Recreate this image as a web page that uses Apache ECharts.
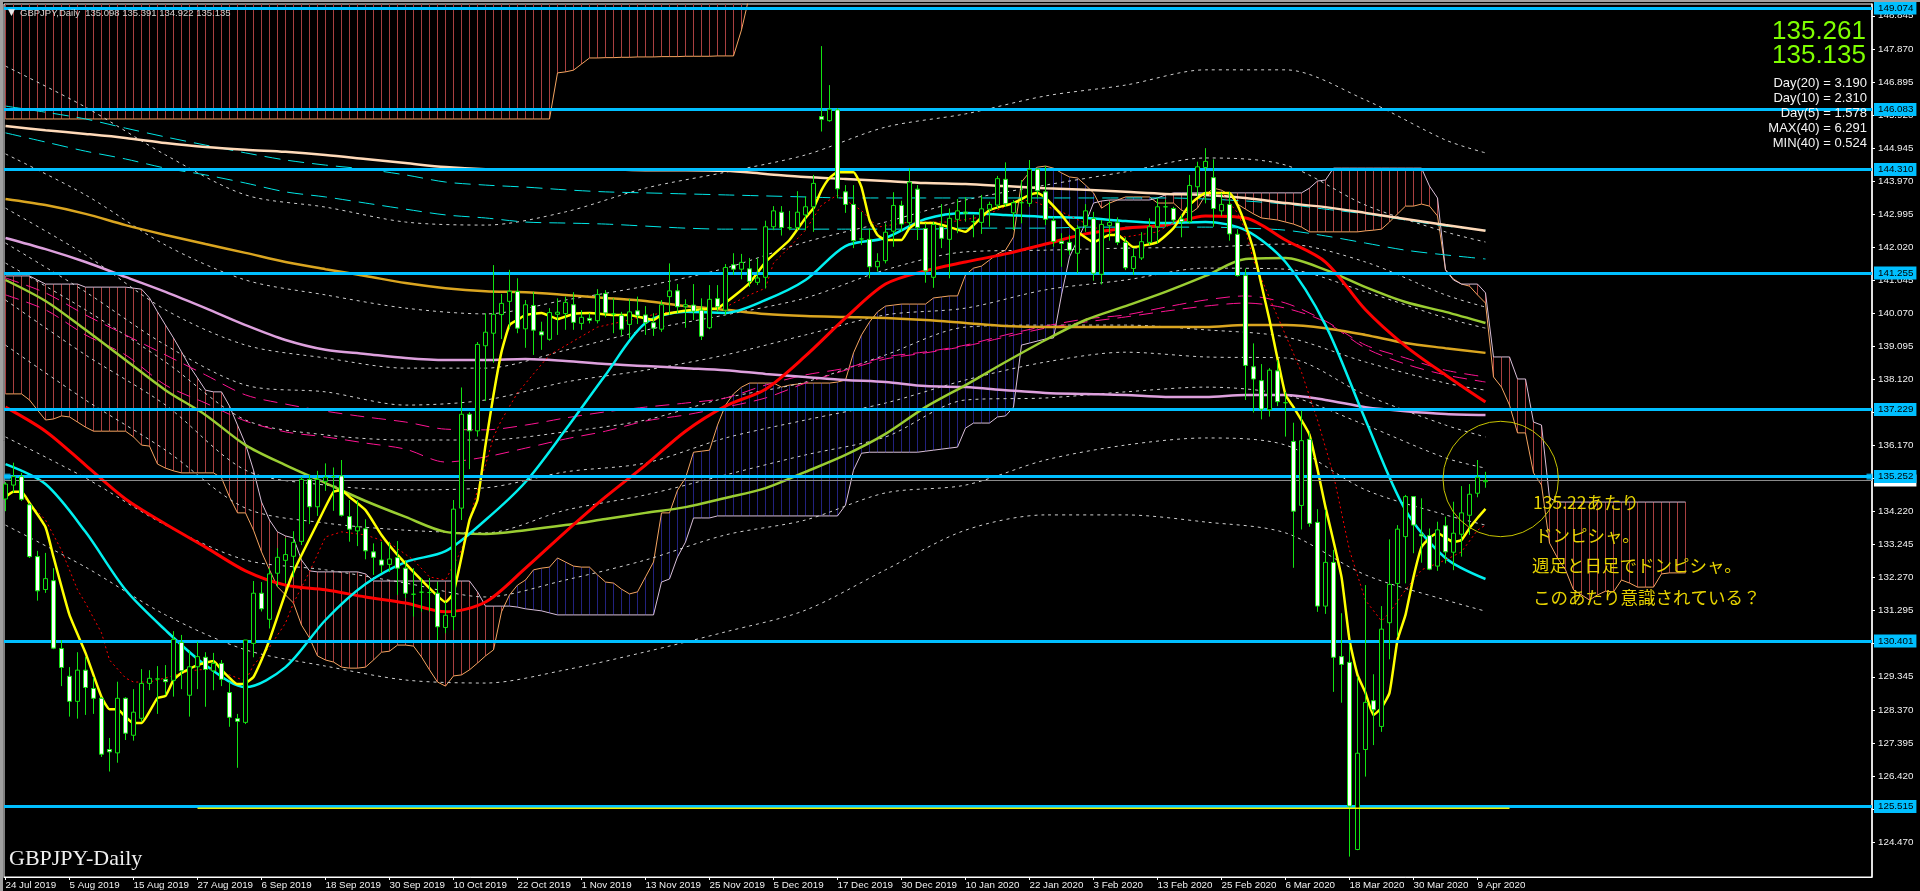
<!DOCTYPE html>
<html><head><meta charset="utf-8"><title>GBPJPY Daily</title>
<style>
html,body{margin:0;padding:0;background:#000;width:1920px;height:891px;overflow:hidden}
#c{position:absolute;left:0;top:0;width:1920px;height:891px}
.s{position:absolute;background:#a0a0a0;z-index:5}
</style>
<script src="https://cdn.jsdelivr.net/npm/echarts@6/dist/echarts.min.js"></script>
</head><body>
<div id="c"></div>
<div class="s" style="left:0;top:0;width:3px;height:891px"></div>
<div class="s" style="left:0;top:0;width:1920px;height:2px"></div>
<script>
const dateTicks=["24 Jul 2019","5 Aug 2019","15 Aug 2019","27 Aug 2019","6 Sep 2019","18 Sep 2019","30 Sep 2019","10 Oct 2019","22 Oct 2019","1 Nov 2019","13 Nov 2019","25 Nov 2019","5 Dec 2019","17 Dec 2019","30 Dec 2019","10 Jan 2020","22 Jan 2020","3 Feb 2020","13 Feb 2020","25 Feb 2020","6 Mar 2020","18 Mar 2020","30 Mar 2020","9 Apr 2020"];
const dateTickBars=[0,8,16,24,32,40,48,56,64,72,80,88,96,104,112,120,128,136,144,152,160,168,176,184];
const priceTicks=[148.845,147.870,146.895,145.920,144.945,143.970,142.995,142.020,141.045,140.070,139.095,138.120,137.145,136.170,135.195,134.220,133.245,132.270,131.295,130.320,129.345,128.370,127.395,126.420,125.445,124.470];
const levels=[149.074,146.083,144.310,141.255,137.229,135.252,130.401,125.515];
const bidPrice=135.135;
const weeklyLowLine=125.47;

const opens=[134.59,135.0,135.25,134.42,132.89,131.92,132.18,130.18,129.36,128.62,129.54,129.0,128.71,127.2,127.1,128.71,127.62,128.12,129.15,129.28,129.27,129.24,130.36,128.8,129.64,129.92,129.52,129.74,128.88,128.11,128.0,130.33,131.81,131.04,132.4,132.78,132.9,133.34,135.17,134.36,135.11,135.25,135.27,134.07,133.65,133.71,133.03,132.79,132.66,132.86,132.55,131.78,131.84,131.83,131.81,130.8,131.12,134.32,137.09,136.6,139.11,139.48,140.03,140.42,140.71,139.61,140.3,139.52,139.3,140.04,140.06,140.32,139.77,139.92,139.85,140.65,140.05,140.01,139.74,140.14,140.02,139.79,139.6,140.56,140.73,140.26,140.31,140.16,139.64,140.5,140.16,141.5,141.37,141.38,140.98,141.13,142.62,143.05,142.59,142.6,142.97,143.21,145.87,145.75,146.07,143.65,143.28,142.26,142.25,141.44,141.62,142.49,143.25,142.74,143.73,142.57,141.13,142.62,142.25,142.84,143.05,142.77,142.75,143.14,143.26,144.02,143.03,143.33,143.31,144.32,143.65,142.8,142.19,142.16,141.84,142.65,142.86,141.22,142.66,142.74,142.16,141.39,141.7,142.16,142.62,143.21,143.16,142.85,142.77,143.8,144.37,144.07,143.09,143.28,142.4,141.18,138.49,138.08,137.22,138.37,137.43,136.29,134.4,136.35,133.9,131.43,132.72,129.94,129.77,124.25,127.2,128.64,127.88,130.94,132.1,133.48,134.66,133.55,133.51,132.61,133.8,133.02,133.55,134.11,134.76,135.098];
const closes=[135.03,135.25,134.58,132.89,131.88,132.24,130.19,129.62,128.62,129.54,129.03,128.71,127.06,127.13,128.71,127.68,128.3,129.15,129.3,129.28,129.2,130.45,129.52,129.64,129.94,129.56,129.74,129.27,128.15,128.03,130.43,131.81,131.35,132.38,132.87,132.95,133.31,135.17,134.36,135.17,135.23,135.25,134.11,133.7,133.77,133.06,132.87,132.64,132.82,132.55,131.81,131.78,131.84,131.83,130.82,131.16,134.29,137.09,136.6,139.15,139.51,140.04,140.36,140.72,139.63,140.32,139.57,139.43,140.09,140.1,140.39,139.8,139.95,139.86,140.62,140.08,140.05,139.6,140.11,140.01,139.79,139.63,140.32,140.73,140.26,140.32,140.13,139.39,140.48,140.26,141.42,141.37,141.57,141.01,141.11,142.62,143.09,142.6,142.59,143.05,143.21,143.9,145.79,146.09,143.74,143.28,142.21,142.26,141.44,141.6,142.46,143.25,142.7,143.94,142.6,141.32,142.69,142.28,142.87,143.09,143.02,142.77,143.15,143.28,144.04,143.3,143.33,143.33,144.32,143.68,142.84,142.19,142.13,141.93,142.57,143.09,141.25,142.69,142.75,142.16,141.41,141.74,142.18,142.62,143.21,143.21,142.82,142.77,143.84,144.39,144.55,143.16,143.28,142.41,141.18,138.53,138.13,137.24,138.39,137.46,137.43,134.23,136.31,133.87,131.43,132.72,129.92,129.71,125.53,127.09,128.59,128.37,130.75,132.07,133.7,134.66,133.82,133.5,132.52,133.68,133.03,133.58,134.18,134.73,135.23,135.135];
const lows=[134.23,134.78,134.53,132.85,131.59,131.82,130.16,129.07,128.17,128.11,128.22,128.25,126.98,126.55,126.81,127.48,127.46,128.02,128.95,128.25,128.81,128.76,128.98,128.17,128.98,128.46,128.95,129.07,127.87,126.66,127.95,129.92,131.27,130.77,132.0,132.11,132.29,133.23,133.85,134.09,134.83,134.24,134.07,133.33,133.2,132.81,132.35,132.41,132.44,131.76,131.67,131.12,131.27,131.27,130.43,130.63,130.72,133.97,135.47,136.43,137.48,138.61,139.31,139.6,139.48,139.05,138.84,138.99,139.26,139.43,139.58,139.58,139.58,139.77,139.77,139.95,139.48,139.41,139.33,139.75,139.43,139.4,139.52,140.02,140.07,139.64,139.87,139.28,139.6,140.12,140.02,141.2,141.07,140.85,140.9,140.8,142.52,142.36,142.52,142.52,142.52,142.47,145.43,145.72,143.46,143.03,141.99,142.08,141.1,141.3,141.54,142.03,142.47,142.62,142.23,140.97,140.82,141.99,141.1,142.43,142.77,142.31,142.41,142.62,143.17,143.21,142.52,142.72,143.21,143.46,142.67,142.03,141.44,141.79,141.25,142.47,141.03,140.92,142.21,142.08,141.34,141.2,141.64,142.08,142.13,142.62,142.72,142.31,142.72,143.51,143.31,142.62,142.94,142.21,141.15,137.51,137.14,136.94,137.02,137.33,136.43,132.56,133.69,133.77,131.26,131.2,128.9,128.58,124.04,124.23,126.4,127.33,127.72,129.86,130.53,132.1,132.99,132.71,132.49,132.47,132.69,132.49,132.89,133.53,134.64,134.922];
const highs=[135.09,135.66,135.36,134.47,133.06,133.0,132.55,130.43,129.63,130.07,129.93,129.34,128.75,127.54,129.2,128.74,128.98,129.57,129.54,129.66,129.69,130.69,130.58,130.13,130.38,130.07,130.05,129.84,129.19,128.25,130.43,132.17,132.14,132.55,133.14,133.43,133.64,135.24,135.3,135.42,135.64,135.52,135.74,134.56,134.56,133.99,133.28,133.33,133.33,133.35,132.79,132.55,132.26,132.26,132.15,131.56,134.56,137.88,137.15,139.22,140.07,141.49,140.64,141.35,141.1,140.46,140.7,139.82,140.22,140.51,140.56,140.69,140.16,140.07,140.78,140.75,140.51,140.11,140.49,140.56,140.28,140.07,140.46,141.54,140.93,140.48,140.93,140.51,140.9,140.9,141.52,141.84,141.82,141.7,141.69,142.8,143.23,143.23,143.09,143.67,143.51,144.15,147.95,146.8,146.12,143.85,143.85,143.06,142.57,141.84,142.72,143.64,143.39,144.34,143.85,142.72,142.77,143.29,143.16,143.44,143.49,142.97,143.56,143.36,144.12,144.52,143.41,144.0,144.59,144.35,144.41,142.92,142.43,142.38,142.67,143.29,143.06,142.82,143.36,142.9,142.31,141.99,142.46,142.87,143.46,143.41,143.21,142.97,144.15,144.54,144.94,144.61,143.61,143.65,142.55,141.39,139.18,138.57,138.45,138.69,137.75,136.84,137.2,136.58,134.29,134.27,133.09,131.22,130.33,129.35,132.05,129.42,131.43,133.4,133.82,134.71,134.66,134.61,133.72,133.92,134.07,134.51,134.97,135.03,135.74,135.391];

// Ichimoku cloud (per bar, runs 26 bars past the last candle)
const spanA=[137.69,137.69,137.69,137.51,137.21,136.92,136.95,137.04,137.01,136.86,
136.71,136.59,136.59,136.59,136.59,136.59,136.42,136.18,136.15,135.62,
135.5,135.42,135.36,135.36,135.36,135.36,135.36,135.21,134.65,134.18,
134.18,133.67,133.03,132.5,132.0,131.76,131.52,130.87,130.49,129.96,
129.84,129.78,129.63,129.6,129.6,129.63,129.84,130.07,130.1,130.28,
130.28,130.25,129.93,129.55,129.19,129.07,129.37,129.4,129.55,129.75,
129.96,130.14,131.26,131.76,132.05,132.2,132.5,132.55,132.58,132.85,
132.73,132.61,132.58,132.58,132.35,132.14,132.11,131.93,131.79,131.85,
132.29,132.73,134.18,134.18,134.85,135.21,135.97,136.0,136.03,136.77,
137.36,137.69,137.89,138.01,138.01,138.01,138.01,137.89,137.95,137.98,
138.01,138.01,138.01,138.01,138.04,138.1,138.9,139.43,139.81,140.11,
140.28,140.31,140.34,140.34,140.34,140.34,140.52,140.55,140.58,140.58,
141.2,141.4,141.46,141.64,141.82,141.93,142.32,143.94,144.23,144.38,
144.41,144.35,144.21,144.09,144.06,143.85,143.62,143.17,143.32,143.41,
143.5,143.5,143.5,143.5,143.32,143.32,143.32,143.11,143.0,143.17,
143.56,143.76,143.7,143.56,143.29,143.14,143.0,142.88,142.85,142.82,
142.76,142.7,142.61,142.47,142.47,142.47,142.47,142.47,142.47,142.47,
142.5,142.52,142.55,142.76,143.0,143.23,143.23,143.29,143.23,142.94,
141.35,141.08,140.93,140.87,140.61,140.37,138.19,137.89,137.36,136.54,
136.54,135.36,135.0,133.29,132.85,132.5,131.91,131.76,131.61,131.76,
131.87,131.85,132.2,132.11,131.99,131.99,131.99,132.38,132.41,132.41,132.41];
const spanB=[141.17,141.17,141.17,141.17,141.05,140.93,140.93,140.93,140.93,140.93,
140.84,140.84,140.84,140.84,140.84,140.84,140.81,140.78,140.52,140.11,
139.72,139.34,138.93,138.51,138.16,137.8,137.75,137.75,137.33,136.77,
136.21,135.44,134.5,133.97,133.62,133.5,133.44,132.79,132.47,132.44,
132.44,132.44,132.44,132.44,132.44,132.38,132.17,132.17,132.17,132.17,
132.17,132.17,132.17,132.17,132.17,132.17,132.17,132.17,132.17,131.85,
131.43,131.43,131.43,131.43,131.4,131.35,131.32,131.29,131.23,131.17,
131.17,131.17,131.17,131.17,131.17,131.17,131.17,131.17,131.17,131.17,
131.17,131.17,132.14,132.23,132.88,133.32,134.03,134.03,134.03,134.09,
134.09,134.09,134.09,134.09,134.09,134.09,134.09,134.09,134.09,134.09,
134.09,134.09,134.09,134.09,134.09,134.41,135.44,135.94,135.97,135.97,
135.97,135.97,135.97,135.97,135.97,136.0,136.03,136.06,136.09,136.12,
136.68,136.83,136.83,136.83,137.01,137.04,137.3,139.13,139.19,139.25,
139.31,139.34,140.61,141.73,142.23,142.73,143.32,143.38,143.41,143.41,
143.41,143.41,143.41,143.41,143.47,143.56,143.62,143.62,143.62,143.62,
143.62,143.62,143.62,143.62,143.62,143.62,143.62,143.62,143.62,143.62,
143.62,143.62,143.62,143.76,143.97,144.0,144.35,144.35,144.35,144.35,
144.35,144.35,144.35,144.35,144.35,144.35,144.35,144.35,143.82,143.47,
141.35,141.05,140.93,140.93,140.93,140.67,138.78,138.78,138.78,138.13,
138.13,136.86,136.77,134.62,134.5,134.5,134.5,134.5,134.5,134.5,
134.5,134.5,134.5,134.5,134.5,134.5,134.5,134.5,134.5,134.5,134.5];
// Higher cloud: its lower edge is visible, its upper edge is above the window
const upperCloudEdge=[145.8,145.8,145.8,145.8,145.8,145.8,145.8,145.8,145.8,145.8,
145.8,145.8,145.8,145.8,145.8,145.8,145.8,145.8,145.8,145.8,
145.8,145.8,145.8,145.8,145.8,145.8,145.8,145.8,145.8,145.8,
145.8,145.8,145.8,145.8,145.8,145.8,145.8,145.8,145.8,145.8,
145.8,145.8,145.8,145.8,145.8,145.8,145.8,145.8,145.8,145.8,
145.8,145.8,145.8,145.8,145.8,145.8,145.8,145.8,145.8,145.8,
145.8,145.8,145.8,145.8,145.8,145.8,145.8,145.8,145.8,147.16,
147.19,147.24,147.42,147.6,147.6,147.61,147.61,147.62,147.62,147.63,
147.63,147.63,147.64,147.64,147.64,147.65,147.65,147.65,147.65,147.66,
147.66,147.66,148.43,149.45];
const upperCloudTop=150.5;

// Moving averages, read every 5 bars
const bars5=[0,5,10,15,20,25,30,35,40,45,50,55,60,65,70,75,80,85,90,95,100,105,110,115,120,125,130,135,140,145,150,155,160,165,170,175,180,185];
const maPeach=[145.59,145.47,145.36,145.24,145.09,144.97,144.89,144.83,144.74,144.62,144.5,144.38,144.32,144.31,144.31,144.31,144.29,144.29,144.27,144.18,144.09,144.03,143.97,143.91,143.88,143.82,143.76,143.71,143.65,143.59,143.56,143.47,143.32,143.2,143.03,142.85,142.67,142.5];
const maTealA=[146.18,146.0,145.8,145.53,145.27,145.03,144.8,144.59,144.44,144.32,144.15,143.94,143.85,143.79,143.71,143.65,143.62,143.59,143.56,143.53,143.5,143.47,143.47,143.47,143.47,143.47,143.47,143.47,143.47,143.47,143.44,143.38,143.29,143.14,143.0,142.82,142.64,142.52];
const maTealB=[145.39,145.12,144.85,144.62,144.35,144.15,143.91,143.65,143.5,143.32,143.14,142.97,142.88,142.76,142.73,142.7,142.64,142.58,142.55,142.55,142.55,142.55,142.55,142.55,142.58,142.58,142.58,142.61,142.61,142.61,142.61,142.58,142.52,142.35,142.14,141.93,141.79,141.67];
const maGold=[143.44,143.26,143.0,142.67,142.38,142.11,141.85,141.58,141.37,141.17,140.96,140.81,140.72,140.69,140.61,140.52,140.43,140.28,140.17,140.05,139.99,139.96,139.93,139.87,139.78,139.69,139.66,139.66,139.66,139.66,139.66,139.72,139.72,139.63,139.43,139.19,139.04,138.9];
const maPlum=[142.29,141.96,141.58,141.14,140.7,140.22,139.72,139.28,138.99,138.87,138.75,138.69,138.69,138.72,138.66,138.57,138.51,138.45,138.39,138.28,138.19,138.1,138.04,137.92,137.89,137.8,137.72,137.69,137.66,137.6,137.6,137.66,137.66,137.51,137.3,137.18,137.1,137.07];
const maOlive=[141.05,140.43,139.58,138.69,137.8,137.07,136.18,135.59,135.06,134.53,134.06,133.62,133.56,133.67,133.82,134.0,134.18,134.35,134.62,134.91,135.39,135.89,136.51,137.3,137.95,138.63,139.28,139.87,140.28,140.7,141.17,141.67,141.7,141.35,140.84,140.4,140.11,139.78];
const maRed=[137.3,136.59,135.59,134.59,133.85,133.17,132.47,132.05,131.91,131.7,131.52,131.26,131.55,132.55,133.62,134.65,135.59,136.59,137.33,137.83,138.81,139.93,140.93,141.32,141.58,141.82,142.11,142.41,142.58,142.67,142.94,142.88,142.23,141.58,140.17,139.1,138.25,137.45];
const maCyan=[135.62,135.03,133.62,131.91,130.72,129.69,129.04,129.63,131.02,132.08,132.73,133.05,133.97,135.09,136.63,138.25,139.78,140.11,140.08,140.46,141.05,142.05,142.29,142.85,143.03,142.97,142.91,142.88,142.79,142.73,142.76,142.52,141.58,139.72,136.92,134.26,132.85,132.23];
const maPinkA=[141.11,140.67,140.02,139.43,138.84,138.25,137.66,137.39,137.18,137.01,136.86,136.65,136.63,136.77,136.98,137.16,137.3,137.42,137.57,137.95,138.25,138.45,138.78,138.93,139.13,139.43,139.69,139.9,140.02,140.25,140.46,140.58,140.37,139.84,139.13,138.75,138.39,138.19];
const maPinkB=[140.61,140.17,139.43,138.84,137.95,137.42,136.89,136.57,136.42,136.24,136.06,135.68,135.83,136.09,136.36,136.59,136.89,137.07,137.3,137.57,138.01,138.39,138.72,138.9,139.1,139.37,139.63,139.81,139.96,140.13,140.28,140.37,140.22,139.81,139.04,138.57,138.25,138.04];

// Fast averages, read at their turning points
const yellowBars=[0,1,2,3,5,6,8,10,12,13,14,15,16,17,19,20,21,22,24,26,27,29,30,31,32,33,35,36,39,41,42,43,45,47,49,51,53,55,56,58,59,60,61,62,63,64,65,67,69,71,73,76,78,81,82,86,89,93,95,98,100,101,102,103,104,106,107,108,109,110,112,113,114,116,118,120,121,123,126,128,129,130,132,133,134,136,138,139,141,144,146,148,149,150,153,154,155,156,157,158,160,161,163,165,167,168,169,170,171,172,173,174,175,176,177,178,179,181,182,183,184,185];
const yellowValues=[134.65,134.8,134.8,134.47,133.76,132.88,131.17,130.05,128.75,128.39,128.39,128.16,127.98,127.98,128.72,128.78,129.25,129.46,129.69,129.81,129.55,129.13,129.16,129.34,129.84,130.43,131.82,132.44,133.88,134.8,134.85,134.65,134.26,133.53,132.94,132.44,131.96,131.55,131.82,133.97,134.56,136.18,137.66,138.93,139.72,139.87,140.02,140.08,139.9,140.05,140.08,140.02,140.02,139.87,140.02,140.17,140.22,140.96,141.58,142.23,142.88,143.17,143.7,144.06,144.23,144.23,143.79,142.82,142.38,142.23,142.23,142.58,142.73,142.73,142.61,142.47,142.67,143.11,143.32,143.56,143.62,143.47,142.97,142.67,142.47,142.17,142.38,142.38,142.02,142.17,142.58,143.26,143.47,143.62,143.62,143.26,142.67,141.93,140.9,139.87,137.66,137.3,136.48,134.35,132.29,130.43,129.4,128.87,128.22,128.43,128.87,130.43,131.17,132.29,133.17,133.44,133.59,133.32,133.38,133.73,134.03,134.3];
const dottedBars=[2,5,7,9,10,12,13,15,16,18,20,22,24,26,28,30,31,33,35,36,38,40,42,45,48,51,53,55,57,58,59,60,61,62,64,68,74,82,87,90,93,95,96,98,100,102,104,107,109,113,118,122,126,128,132,136,140,144,147,149,152,154,155,156,158,160,162,164,166,168,170,172,173,175,177,180,182,184,185];
const dottedValues=[134.71,133.97,133.08,131.91,131.52,130.64,129.84,129.31,129.19,129.19,129.31,129.46,129.55,129.57,129.4,129.22,129.69,130.22,130.93,131.52,132.44,133.47,133.62,133.53,133.29,132.79,132.29,132.2,133.08,133.97,134.85,135.59,136.42,136.92,137.72,138.84,139.66,140.08,140.17,140.25,140.61,140.81,141.55,142.02,142.52,143.26,143.56,143.1,142.61,142.76,142.76,142.91,143.32,143.41,143.06,142.61,142.32,142.47,142.88,143.5,143.62,143.03,142.52,141.64,140.52,139.43,138.33,136.92,135.3,133.08,131.6,130.99,131.23,131.91,132.5,132.79,133.03,133.67,133.82];

// Envelope bands, read every 10 bars
const bars10=[0,10,20,30,40,50,60,70,80,90,100,110,120,130,140,150,160,170,180,185];
const band1=[147.36,146.15,144.74,143.56,143.2,142.76,142.67,143.06,143.76,144.23,144.74,145.56,145.95,146.48,146.8,147.25,147.25,146.36,145.18,144.8];
const band2=[144.77,143.56,142.08,141.05,140.61,140.22,140.05,140.46,140.87,141.4,142.17,142.76,143.41,143.85,144.24,144.65,144.44,143.26,142.47,142.17];
const band3=[143.17,141.79,140.17,139.13,138.75,138.45,138.45,138.98,139.57,140.02,140.52,141.35,141.88,141.93,141.99,142.02,142.11,141.58,140.61,140.25];
const band4=[142.14,140.7,139.13,137.95,137.75,137.36,137.51,138.04,138.39,138.84,139.43,140.02,140.22,140.76,141.05,141.4,141.37,140.7,139.93,139.63];
const band5=[141.55,140.17,138.63,136.92,136.48,136.33,136.33,136.57,136.92,137.57,138.04,138.84,139.66,139.72,139.72,139.58,139.37,138.63,138.01,137.8];
const band6=[140.46,138.84,137.36,135.44,135.0,134.86,134.92,135.39,135.65,136.39,136.92,137.42,138.1,138.63,138.92,138.78,138.75,137.66,136.77,136.42];
const band7=[139.13,137.51,136.03,134.32,133.88,133.67,133.59,134.26,134.71,135.3,135.89,136.42,137.51,137.57,137.75,137.89,137.66,136.77,135.8,135.5];
const band8=[136.42,135.21,133.82,132.79,132.5,132.11,131.7,132.2,132.79,133.53,133.97,134.77,135.0,135.74,136.18,136.39,136.18,134.86,134.12,133.82];
const band9=[133.82,132.58,131.17,130.14,129.66,129.25,129.16,129.55,130.08,130.67,131.31,132.5,133.67,134.12,134.12,133.91,133.59,132.35,131.61,131.28];

const statLines=["Day(20) = 3.190","Day(10) = 2.310","Day(5) = 1.578","MAX(40) = 6.291","MIN(40) = 0.524"];
const bigPrices=["135.261","135.135"];
const notes=["135.22あたり","ドンピシャ。","週足と日足でドンピシャ。","このあたり意識されている？"];
const headerText="GBPJPY,Daily  135.098 135.391 134.922 135.135";

const zip=(xs,ys)=>xs.map((x,i)=>[x,ys[i]]);
const axisFont='"Liberation Sans",Arial,sans-serif';
const BLUE='#00bfff';
const GREEN='#12e412';

function thick(name,xs,ys,color,width,z,smooth){return {name,type:'line',data:zip(xs,ys),showSymbol:false,silent:true,
  smooth:smooth||0,lineStyle:{color,width:width||2.5},z:z||3,animation:false};}
function dashed(name,xs,ys,color,dash,z,smooth){return {name,type:'line',data:zip(xs,ys),showSymbol:false,silent:true,
  smooth:smooth||0,lineStyle:{color,width:1,type:dash},z:z||2,animation:false};}
function hatch(name,rows,colorFn){return {name,type:'custom',data:rows,clip:true,silent:true,z:1,animation:false,
  encode:{x:0,y:[1,2]},
  renderItem(p,api){
    const i=api.value(0),a=api.value(1),b=api.value(2);
    const p1=api.coord([i,a]),p2=api.coord([i,b]);
    const x=Math.round(p1[0]-0.5)+0.5;
    return {type:'line',shape:{x1:x,y1:p1[1],x2:x,y2:p2[1]},style:{stroke:colorFn(a,b),lineWidth:1}};
  }};}

const series=[
  hatch('upperCloud',upperCloudEdge.map((v,i)=>[i,v,upperCloudTop]),()=>'#a84040'),
  hatch('cloud',spanA.map((v,i)=>[i,v,spanB[i]]),(a,b)=>a>=b?'#22227e':'#a84040'),
  thick('upperCloudEdge',upperCloudEdge.map((v,i)=>i),upperCloudEdge,'#f4a460',1,2),
  thick('spanA',spanA.map((v,i)=>i),spanA,'#f4a460',1,2),
  thick('spanB',spanB.map((v,i)=>i),spanB,'#d8bfd8',1,2),
  ...[band1,band2,band3,band4,band5,band6,band7,band8,band9].map((b,k)=>dashed('band'+(k+1),bars10,b,'#d0d0d0',[3,4],2,0.3)),
  dashed('tealA',bars5,maTealA,'#00e6e6',[16,8],2,0.3),
  dashed('tealB',bars5,maTealB,'#00e6e6',[16,8],2,0.3),
  dashed('pinkA',bars5,maPinkA,'#ff1493',[14,8],2,0.3),
  dashed('pinkB',bars5,maPinkB,'#ff1493',[14,8],2,0.3),
  thick('peach',bars5,maPeach,'#ffdab9',2.5,3,0.3),
  thick('gold',bars5,maGold,'#daa520',2.5,3,0.3),
  thick('plum',bars5,maPlum,'#dda0dd',2.5,3,0.3),
  thick('olive',bars5,maOlive,'#9acd32',2.5,3,0.3),
  thick('red',bars5,maRed,'#ff0000',3,3,0.3),
  thick('cyan',bars5,maCyan,'#00f0f0',2.5,3,0.3),
  dashed('redDotted',dottedBars,dottedValues,'#ff0000',[2,3],3),
  thick('yellow',yellowBars,yellowValues,'#ffff00',2.5,4,0.15),
  {name:'GBPJPY',type:'candlestick',z:5,silent:true,animation:false,barWidth:5,clip:true,
   data:opens.map((o,i)=>[i,o,closes[i],lows[i],highs[i]]),
   itemStyle:{color:'#000',color0:'#fff',borderColor:GREEN,borderColor0:GREEN,borderColorDoji:GREEN,borderWidth:1}},
  {name:'weeklyLow',type:'line',data:[[24,weeklyLowLine],[188,weeklyLowLine]],showSymbol:false,silent:true,z:7,
   lineStyle:{color:'#f0f000',width:1.5},animation:false},
  {name:'bid',type:'line',data:[],z:8,silent:true,animation:false,
   markLine:{silent:true,symbol:'none',animation:false,precision:3,lineStyle:{color:'#8a8a8a',width:1,type:'solid'},
     label:{position:'end',distance:2,color:'#000',backgroundColor:'#fff',padding:[1,3,1,4],fontSize:9.8,fontFamily:axisFont,formatter:p=>Number(p.value).toFixed(3)},
     data:[{yAxis:bidPrice}]}},
  {name:'levels',type:'line',data:[],z:10,silent:true,animation:false,
   markLine:{silent:true,symbol:'none',animation:false,precision:3,lineStyle:{color:BLUE,width:3,type:'solid'},
     label:{position:'end',distance:2,color:'#000',backgroundColor:BLUE,padding:[2,3,1,4],fontSize:9.8,fontFamily:axisFont,formatter:p=>Number(p.value).toFixed(3)},
     data:levels.map(v=>({yAxis:v}))}},
  {name:'handles',type:'scatter',data:[[0.25,135.25],[233,135.25]],symbol:'rect',symbolSize:6,itemStyle:{color:BLUE},z:11,silent:true,animation:false},
  {name:'circle',type:'custom',data:[[186.9,135.18]],clip:false,silent:true,z:6,animation:false,encode:{x:0,y:1},
   renderItem(p,api){const c=api.coord([api.value(0),api.value(1)]);
     return {type:'circle',shape:{cx:c[0],cy:c[1],r:57.7},style:{fill:'none',stroke:'#c8c400',lineWidth:1}};}}
];

function txt(x,y,text,font,fill,align){return {type:'text',x,y,z:20,silent:true,
  style:{text,font,fill,align:align||'left',verticalAlign:'middle'}};}
const graphics=[
  txt(8,13,'▼','9px "DejaVu Sans"','#e8e8e8'),
  txt(20,13,headerText,'9.5px '+axisFont,'#d2d2d2'),
  txt(9,859,'GBPJPY-Daily','22px "Liberation Serif",serif','#f0f0f0'),
  txt(1866,32,bigPrices[0],'26px '+axisFont,'#7fff00','right'),
  txt(1866,56,bigPrices[1],'26px '+axisFont,'#7fff00','right'),
  ...statLines.map((s,k)=>txt(1867,83+15*k,s,'13px '+axisFont,'#f4f4f4','right')),
  txt(1533,502,notes[0],'17.5px "Noto Sans CJK JP"','#e6d200'),
  txt(1535,535,notes[1],'17.5px "Noto Sans CJK JP"','#e6d200'),
  txt(1532,565,notes[2],'17.5px "Noto Sans CJK JP"','#e6d200'),
  txt(1533,597,notes[3],'17.5px "Noto Sans CJK JP"','#e6d200')
];

const chart=echarts.init(document.getElementById('c'),null,{renderer:'canvas',width:1920,height:891});
chart.setOption({
  animation:false,backgroundColor:'#000',
  grid:{left:4,top:4,right:48,bottom:14,show:true,borderColor:'#fff',borderWidth:1,backgroundColor:'#000'},
  xAxis:{type:'value',min:-0.1875,max:233.3125,splitLine:{show:false},
    axisLine:{show:true,onZero:false,lineStyle:{color:'#fff',width:1}},
    axisTick:{show:true,length:3,lineStyle:{color:'#fff'},customValues:dateTickBars},
    axisLabel:{show:true,color:'#f0f0f0',fontSize:9.8,fontFamily:axisFont,align:'left',margin:3,
      customValues:dateTickBars,formatter:v=>dateTicks[dateTickBars.indexOf(Math.round(v))]||''}},
  yAxis:{type:'value',position:'right',min:123.4385,max:149.192,splitLine:{show:false},
    axisLine:{show:true,onZero:false,lineStyle:{color:'#fff',width:1.5}},
    axisTick:{show:true,length:3,lineStyle:{color:'#fff'},customValues:priceTicks},
    axisLabel:{show:true,color:'#f0f0f0',fontSize:9.8,fontFamily:axisFont,margin:6,customValues:priceTicks,formatter:v=>v.toFixed(3)}},
  tooltip:{show:false},legend:{show:false},
  series,graphic:{elements:graphics}
});
</script></body></html>
